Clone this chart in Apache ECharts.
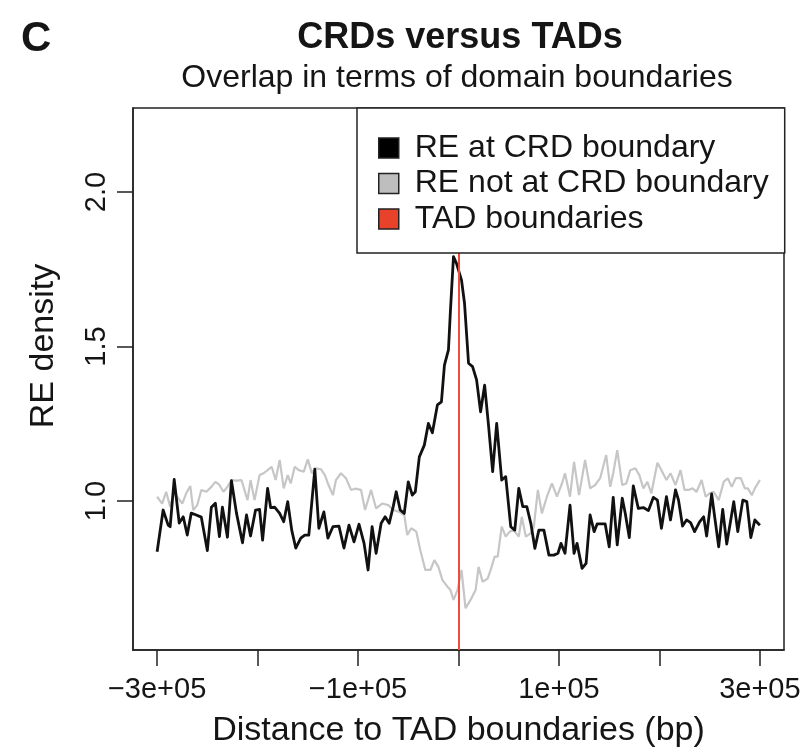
<!DOCTYPE html>
<html><head><meta charset="utf-8">
<script src="https://cdn.jsdelivr.net/npm/echarts@6/dist/echarts.min.js"></script>
<style>html,body{margin:0;padding:0;background:#fff}#c{width:804px;height:752px}</style>
</head><body><div id="c"></div>
<script>
// Distances in kb, densities
const blackDistKb = [-300,-294,-289,-287,-283,-278,-274,-270,-266,-261,-256,-250,-246,-242,-238,-235,-230,-226,-221,-215,-211,-207,-202,-198,-195,-190,-187,-183,-178,-174,-170,-166,-162,-157,-153,-149,-143,-139,-134,-130,-125,-119,-114,-109,-104,-99,-94,-90,-86,-82,-77,-73,-69,-65,-62,-58,-54,-50,-46,-43,-39,-34,-30,-26,-21,-17,-14,-10,-8,-5,-2,3,6,10,14,18,22,26,30,34,38,43,47,52,56,60,64,68,72,76,80,85,90,95,99,102,106,111,115,118,123,127,131,135,138,146,150,154,158,163,166,170,174,179,184,189,194,198,202,207,211,216,219,223,227,231,235,240,244,247,252,255,259,263,267,271,274,278,283,287,291,295,300];
const blackDensity = [0.836,0.971,0.922,0.917,1.07,0.929,0.949,0.89,0.961,0.955,0.948,0.84,0.98,0.993,0.885,0.98,0.883,1.066,0.961,0.865,0.955,0.887,0.971,0.973,0.874,1.041,0.979,0.98,0.96,0.933,0.998,0.906,0.848,0.88,0.89,0.89,1.103,0.912,0.965,0.88,0.917,0.919,0.848,0.922,0.868,0.925,0.863,0.777,0.917,0.831,0.928,0.949,0.928,0.982,1.03,0.971,0.96,1.062,1.019,1.03,1.143,1.181,1.251,1.221,1.311,1.321,1.44,1.489,1.618,1.791,1.769,1.715,1.64,1.446,1.435,1.392,1.289,1.375,1.241,1.095,1.251,1.068,1.079,0.917,0.906,1.041,0.982,0.982,0.928,0.847,0.906,0.906,0.825,0.825,0.831,0.863,0.831,0.987,0.831,0.863,0.782,0.798,0.955,0.901,0.926,0.926,0.852,1.012,0.858,1.009,0.96,0.882,1.049,0.976,0.979,0.969,1.012,1.003,0.912,1.014,0.939,1.036,1.003,0.919,0.939,0.93,0.901,0.933,0.949,0.887,1.023,0.949,0.852,0.973,0.861,0.939,0.998,0.901,1.003,0.998,0.882,0.939,0.922];
const greyDistKb = [-300,-295,-291,-287,-283,-279,-275,-271,-267,-264,-260,-256,-251,-246,-242,-238,-234,-230,-226,-221,-216,-210,-207,-203,-198,-194,-190,-186,-182,-178,-174,-170,-167,-163,-159,-154,-150,-146,-142,-137,-133,-130,-125,-122,-117,-112,-107,-103,-97,-93,-87,-82,-76,-70,-65,-59,-54,-51,-47,-42,-38,-33,-28,-24,-20,-16,-11,-8,-5,-1,3,7,12,17,20,24,29,32,36,39,43,47,51,55,60,63,67,72,75,79,83,88,93,98,103,106,111,115,120,126,131,136,141,147,151,154,158,163,167,171,176,180,184,188,192,198,202,207,211,216,221,225,229,233,237,242,246,250,254,259,264,268,272,276,281,285,288,292,295,300];
const greyDensity = [1.014,0.992,1.03,0.982,1.03,1.009,0.992,1.025,1.049,0.971,0.987,1.036,1.03,1.046,1.062,1.052,1.03,1.046,1.068,1.066,1.068,1.003,1.068,1.003,1.084,1.09,1.1,1.111,1.068,1.133,1.041,1.084,1.057,1.111,1.1,1.095,1.135,1.09,1.106,1.103,1.084,1.057,1.019,1.068,1.09,1.074,1.036,1.04,1.036,0.971,1.036,0.976,0.992,0.987,0.971,0.965,0.955,0.89,0.912,0.901,0.841,0.777,0.777,0.809,0.787,0.744,0.723,0.712,0.68,0.712,0.777,0.653,0.68,0.712,0.787,0.739,0.749,0.777,0.82,0.82,0.917,0.885,0.901,0.906,0.885,0.949,0.885,0.896,0.917,1.036,0.96,1.014,1.057,1.014,1.057,1.09,1.014,1.127,1.019,1.133,1.041,1.052,1.074,1.149,1.046,1.09,1.165,1.052,1.057,1.1,1.106,1.084,1.041,1.062,1.025,1.124,1.1,1.068,1.09,1.052,1.1,1.036,1.036,1.041,1.03,1.068,1.014,1.025,1.03,1.003,1.062,1.074,1.046,1.074,1.074,1.041,1.041,1.019,1.041,1.068];
const tadBoundaries = [0];
const seriesNames = ['RE at CRD boundary', 'RE not at CRD boundary', 'TAD boundaries'];
const xTickValues = [-300000, -200000, -100000, 0, 100000, 200000, 300000];
const xTickLabels = ['\u22123e+05', '', '\u22121e+05', '', '1e+05', '', '3e+05'];
const yTickValues = [1.0, 1.5, 2.0];
const yTickLabels = ['1.0', '1.5', '2.0'];

const FONT = 'Liberation Sans, Arial, sans-serif';
const INK = '#151515';
const chart = echarts.init(document.getElementById('c'), null, {renderer: 'canvas'});

function lookup(vals, labels, v) {
  for (let i = 0; i < vals.length; i++) if (Math.abs(vals[i] - v) < 1e-6 * Math.max(1, Math.abs(v))) return labels[i];
  return '';
}

chart.setOption({
  animation: false,
  backgroundColor: '#fff',
  title: [
    {text: 'C', left: 21, top: 18, padding: 0, textStyle: {fontFamily: FONT, fontSize: 42, fontWeight: 'bold', color: INK}},
    {text: 'CRDs versus TADs', left: 460, top: 20, textAlign: 'center', padding: 0, textStyle: {fontFamily: FONT, fontSize: 36, fontWeight: 'bold', color: INK}},
    {text: 'Overlap in terms of domain boundaries', left: 457, top: 62, textAlign: 'center', padding: 0, textStyle: {fontFamily: FONT, fontSize: 32, fontWeight: 'normal', color: INK}}
  ],
  grid: {left: 133, right: 20, top: 108, bottom: 102, show: true, borderColor: '#222', borderWidth: 1.5, backgroundColor: 'transparent', outerBoundsMode: 'none', containLabel: false},
  legend: {
    show: true, orient: 'vertical', left: 357, top: 108, data: seriesNames, icon: 'rect',
    itemWidth: 20, itemHeight: 20, itemGap: 3.5, padding: [24, 16, 18, 21],
    backgroundColor: '#fff', borderColor: '#222', borderWidth: 1.5, borderRadius: 0,
    itemStyle: {borderColor: '#222', borderWidth: 1.5},
    textStyle: {fontFamily: FONT, fontSize: 32, color: INK, padding: [0, 0, 0, 11]},
    selectedMode: false, z: 10
  },
  xAxis: {
    type: 'value', min: -324000, max: 324000,
    axisLine: {show: true, onZero: false, lineStyle: {color: '#222', width: 1.5}},
    axisTick: {show: true, customValues: xTickValues, length: 16, inside: false, lineStyle: {color: '#222', width: 1.5}},
    axisLabel: {show: true, customValues: xTickValues, formatter: v => lookup(xTickValues, xTickLabels, v), fontFamily: FONT, fontSize: 29, color: INK, margin: 25, hideOverlap: false},
    splitLine: {show: false},
    name: 'Distance to TAD boundaries (bp)', nameLocation: 'middle', nameGap: 64,
    nameTextStyle: {fontFamily: FONT, fontSize: 34, color: INK}
  },
  yAxis: {
    type: 'value', min: 0.518, max: 2.272,
    axisLine: {show: true, onZero: false, lineStyle: {color: '#222', width: 1.5}},
    axisTick: {show: true, customValues: yTickValues, length: 16, inside: false, lineStyle: {color: '#222', width: 1.5}},
    axisLabel: {show: true, customValues: yTickValues, formatter: v => lookup(yTickValues, yTickLabels, v), rotate: 90, fontFamily: FONT, fontSize: 29, color: INK, margin: 22, hideOverlap: false},
    splitLine: {show: false},
    name: 'RE density', nameLocation: 'middle', nameRotate: 90, nameGap: 72,
    nameTextStyle: {fontFamily: FONT, fontSize: 34, color: INK, padding: [0, 0, 0, 66]}
  },
  series: [
    {name: seriesNames[1], type: 'line', data: greyDistKb.map((d, i) => [d * 1000, greyDensity[i]]), showSymbol: false, symbol: 'none', lineStyle: {color: '#c6c6c6', width: 2.2}, itemStyle: {color: '#bebebe'}, z: 2, silent: true},
    {name: seriesNames[0], type: 'line', data: blackDistKb.map((d, i) => [d * 1000, blackDensity[i]]), showSymbol: false, symbol: 'none', lineStyle: {color: '#111', width: 2.8, join: 'round'}, itemStyle: {color: '#000'}, z: 3, silent: true},
    {name: seriesNames[2], type: 'line', data: [], itemStyle: {color: '#e8432a'}, z: 4, silent: true,
      markLine: {silent: true, symbol: ['none', 'none'], label: {show: false}, animation: false,
        lineStyle: {color: '#ef4a3a', width: 2, type: 'solid'},
        data: tadBoundaries.map(v => ({xAxis: v}))}}
  ]
});
</script>
</body></html>
